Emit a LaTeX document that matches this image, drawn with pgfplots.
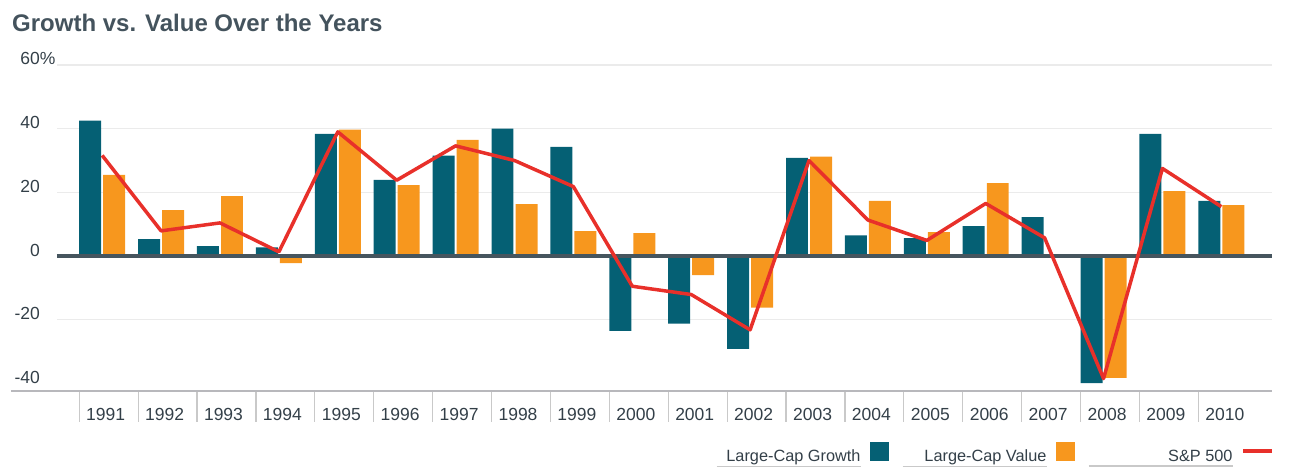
\documentclass[border=0pt]{standalone}
\usepackage{pgfplots}
\usepackage{pgfplotstable}
\pgfplotsset{compat=1.18}
\usepackage{fontspec}
\setmainfont{Liberation Sans}
\definecolor{growth}{HTML}{056074}
\definecolor{value}{HTML}{F7971E}
\definecolor{spred}{HTML}{E8302A}
\definecolor{zeroc}{HTML}{46555E}
\definecolor{gridc}{HTML}{EBEBEB}
\definecolor{basec}{HTML}{B8B8BC}
\definecolor{sepc}{HTML}{C9C9C9}
\definecolor{txt}{HTML}{333F48}
\definecolor{titlec}{HTML}{44535D}
\newcommand{\legtext}[1]{\rlap{\color{sepc}\rule[-5.6pt]{144pt}{1.3pt}}\makebox[144pt][r]{#1}}

\pgfplotstableread{
x G V SP
0 42.5 25.5 31.6
1 5.3 14.4 7.9
2 3.1 18.8 10.4
3 2.7 -2.2 1.3
4 38.4 39.7 39.0
5 23.9 22.3 23.8
6 31.5 36.5 34.6
7 40.0 16.3 30.0
8 34.3 7.8 21.8
9 -23.5 7.2 -9.5
10 -21.2 -6.0 -12.1
11 -29.2 -16.2 -23.2
12 30.8 31.2 30.0
13 6.5 17.3 11.3
14 5.6 7.5 4.9
15 9.4 22.9 16.5
16 12.2 -0.2 5.7
17 -39.9 -38.3 -38.5
18 38.4 20.4 27.5
19 17.3 16.0 15.5
}\datatable

\begin{document}
\begin{tikzpicture}
\begin{axis}[name=ax, scale only axis, width=1215pt, height=326pt,
  xmin=-0.767, xmax=19.86, ymin=-42.4, ymax=60,
  axis line style={draw=none},
  clip=false,
  tick pos=left,
  major tick length=0pt,
  xtick={0,1,2,3,4,5,6,7,8,9,10,11,12,13,14,15,16,17,18,19},
  xticklabels={1991,1992,1993,1994,1995,1996,1997,1998,1999,2000,2001,2002,2003,2004,2005,2006,2007,2008,2009,2010},
  xticklabel style={anchor=base, inner sep=0pt, yshift=-30pt, xshift=3.5pt, font=\fontsize{17.5}{20}\selectfont, text=txt},
  extra x ticks={-0.39,0.61,1.61,2.61,3.61,4.61,5.61,6.61,7.61,8.61,9.61,10.61,11.61,12.61,13.61,14.61,15.61,16.61,17.61,18.61},
  extra x tick labels={},
  extra x tick style={major tick length=31pt, tick align=outside, major tick style={draw=sepc, line width=1.2pt}},
  ytick={-20,0,20,40,60},
  yticklabels={-20,0,20,40,60\rlap{\%}},
  extra y ticks={-40}, extra y tick labels={-40},
  extra y tick style={grid=none},
  ymajorgrids, grid style={draw=gridc, line width=1.6pt},
  yticklabel style={anchor=base east, inner sep=0pt, xshift=-17pt, font=\fontsize{17.5}{20}\selectfont, text=txt},
  legend columns=3, legend plot pos=right,
  legend style={at={(1,0)}, anchor=south east, xshift=2pt, yshift=-71.8pt, draw=none, fill=none, inner sep=0pt, outer sep=0pt,
    nodes={inner sep=0pt, outer sep=0pt, font=\fontsize{16.3}{19}\selectfont, text=txt},
    /tikz/every odd column/.style={column sep=9pt},
    /tikz/every even column/.style={column sep=14pt}},
]
\addplot[ybar, bar width=0.373, bar shift=-0.204, fill=growth, draw=none,
  legend image code/.code={\fill[growth] (0pt,-5.3pt) rectangle (19pt,13.7pt);}]
  table[x=x,y=G]{\datatable};
\addlegendentry{\legtext{Large-Cap Growth}}
\addplot[ybar, bar width=0.373, bar shift=0.204, fill=value, draw=none,
  legend image code/.code={\fill[value] (0pt,-5.3pt) rectangle (19pt,13.7pt);}]
  table[x=x,y=V]{\datatable};
\addlegendentry{\legtext{Large-Cap Value}}
\draw[zeroc, line width=3.6pt] (axis cs:-0.767,0) -- (axis cs:19.86,0);
\addplot[spred, line width=3.5pt, line join=round, mark=none,
  legend image code/.code={\draw[spred, line width=3.5pt] (0pt,5pt) -- (29pt,5pt);}]
  table[x=x,y=SP]{\datatable};
\addlegendentry{\legtext{S\&P 500}}
\end{axis}
\draw[basec, line width=2.5pt] ([xshift=-46pt]ax.south west) -- (ax.south east);
\node[anchor=base west, inner sep=0pt, font=\bfseries\fontsize{24}{29}\selectfont, text=titlec] at ([xshift=-45pt, yshift=33.3pt]ax.north west) {Growth vs. Value Over the Years};
\pgfresetboundingbox
\path[use as bounding box] ([shift={(-57pt,-80pt)}]ax.south west) rectangle ([shift={(33pt,65pt)}]ax.north east);
\end{tikzpicture}
\end{document}
